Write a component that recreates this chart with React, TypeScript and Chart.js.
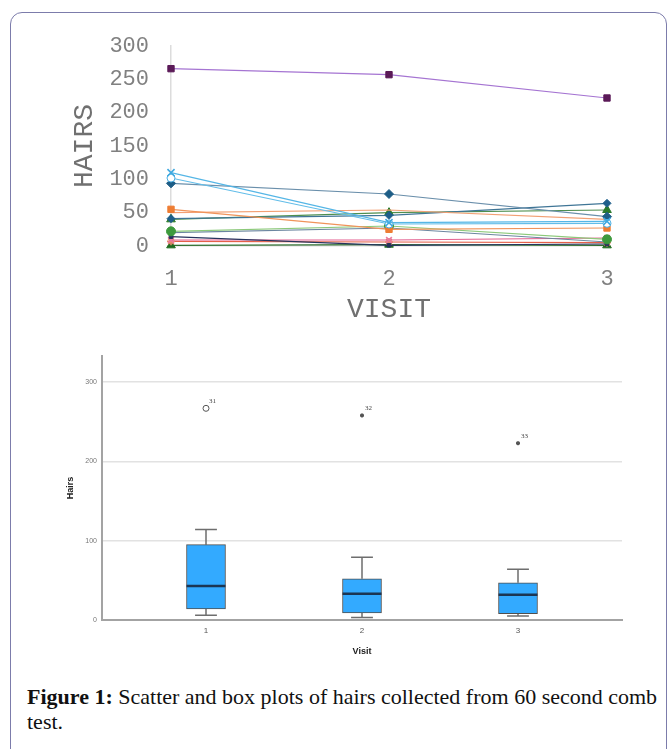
import React, { useEffect, useRef } from 'react';
import { Chart, registerables } from 'chart.js';

Chart.register(...registerables);

// ---------- data ----------
const visits = [1, 2, 3];
const visitLabels = ['1', '2', '3'];

// hairs per subject at visits 1, 2, 3
const subject01 = [110, 35, 37];
const subject02 = [102, 33, 34];
const subject03 = [94, 78, 44];
const subject04 = [55, 25, 27];
const subject05 = [50, 54, 40];
const subject06 = [41, 46, 64];
const subject07 = [40, 50, 54];
const subject08 = [22, 30, 10];
const subject09 = [20, 27, 6];
const subject10 = [14, 1, 3];
const subject11 = [266, 257, 222];
const subject12 = [9, 9, 12];
const subject13 = [7, 6, 5];
const subject14 = [1, 2, 1];

// box plot statistics per visit
const boxMin = [6, 3, 5];
const boxQ1 = [14, 9, 8];
const boxMedian = [43, 33, 32];
const boxQ3 = [95, 52, 47];
const boxMax = [114, 79, 64];
const outlierValues = [267, 258, 223];
const outlierCases = ['31', '32', '33'];

// ---------- styles ----------
type Sty = { line: string; fill: string; border: string; style: string; r: number };
const subjectStyles: Sty[] = [
  { line: '#55b6e6', fill: '#55b6e6', border: '#3fa9e0', style: 'crossRot', r: 5 },
  { line: '#62bde9', fill: '#ffffff', border: '#4aaee2', style: 'circle', r: 4 },
  { line: '#6a8fab', fill: '#1d5d86', border: '#1d5d86', style: 'rectRot', r: 4.5 },
  { line: '#f0935a', fill: '#ee7d33', border: '#ee7d33', style: 'rect', r: 4.5 },
  { line: '#f2a074', fill: '#f2a074', border: '#f2a074', style: 'rect', r: 0 },
  { line: '#3f7596', fill: '#1f5f8b', border: '#1f5f8b', style: 'rectRot', r: 4 },
  { line: '#4f8f4f', fill: '#2a7a2a', border: '#2a7a2a', style: 'triangle', r: 5 },
  { line: '#8cc97a', fill: '#3d9a3d', border: '#3d9a3d', style: 'circle', r: 4.5 },
  { line: '#6c86a0', fill: '#6c86a0', border: '#6c86a0', style: 'rect', r: 0 },
  { line: '#26335e', fill: '#26335e', border: '#26335e', style: 'rect', r: 2.5 },
  { line: '#a574d2', fill: '#5b1a58', border: '#5b1a58', style: 'rect', r: 4.5 },
  { line: '#e35f8f', fill: '#e8799f', border: '#e8799f', style: 'crossRot', r: 4 },
  { line: '#e5604a', fill: '#e58a6a', border: '#e58a6a', style: 'star', r: 4 },
  { line: '#2f6f2f', fill: '#1f6b1f', border: '#1f6b1f', style: 'triangle', r: 5 },
];
const subjects = [
  subject01, subject02, subject03, subject04, subject05, subject06, subject07,
  subject08, subject09, subject10, subject11, subject12, subject13, subject14,
];

const monoFont = '"Liberation Mono", "DejaVu Sans Mono", monospace';
const sansFont = '"Liberation Sans", Arial, sans-serif';

const outlierLabelPlugin = {
  id: 'outlierLabels',
  afterDatasetsDraw(chart: any) {
    const idx = chart.data.datasets.findIndex((d: any) => d.label === 'Outliers');
    if (idx < 0) return;
    const meta = chart.getDatasetMeta(idx);
    const ctx = chart.ctx;
    ctx.save();
    ctx.font = '7px "Liberation Serif", serif';
    ctx.fillStyle = '#444';
    ctx.textAlign = 'left';
    ctx.textBaseline = 'middle';
    meta.data.forEach((pt: any, i: number) => {
      ctx.fillText(outlierCases[i], pt.x + 3, pt.y - 7);
    });
    ctx.restore();
  },
};

export default function App() {
  const topRef = useRef<HTMLCanvasElement>(null);
  const bottomRef = useRef<HTMLCanvasElement>(null);

  useEffect(() => {
    const topChart = new Chart(topRef.current as HTMLCanvasElement, {
      type: 'line',
      data: {
        datasets: subjects.map((vals, si) => {
          const s = subjectStyles[si];
          return {
            label: 'Subject ' + (si + 1),
            data: visits.map((v, i) => ({ x: v, y: vals[i] })),
            borderColor: s.line,
            backgroundColor: s.fill,
            pointBackgroundColor: s.fill,
            pointBorderColor: s.border,
            pointStyle: s.style as any,
            pointRadius: s.r,
            pointBorderWidth: s.style === 'crossRot' || s.style === 'star' ? 1.6 : 1,
            borderWidth: 1.2,
            tension: 0,
            clip: false as any,
          };
        }),
      },
      options: {
        animation: false,
        responsive: false,
        events: [],
        layout: { padding: { left: 0, top: 46, right: 60, bottom: 0 } },
        plugins: { legend: { display: false }, tooltip: { enabled: false } },
        scales: {
          x: {
            type: 'linear',
            min: 1,
            max: 3,
            offset: false,
            afterBuildTicks: (sc: any) => {
              sc.ticks = visits.map((v) => ({ value: v }));
            },
            afterFit: (sc: any) => {
              sc.height = 94;
            },
            ticks: {
              callback: (v: any) => visitLabels[visits.indexOf(Number(v))] ?? '',
              font: { family: monoFont, size: 22 },
              color: '#808080',
              padding: 20,
              maxRotation: 0,
              autoSkip: false,
            },
            grid: { display: false, drawTicks: false },
            border: { display: true, color: '#dcdcdc', width: 1.5 },
            title: {
              display: true,
              text: 'VISIT',
              font: { family: monoFont, size: 28 },
              color: '#707070',
              padding: { top: 0, bottom: 14 },
            },
          },
          y: {
            min: 0,
            max: 300,
            afterFit: (sc: any) => {
              sc.width = 171;
            },
            ticks: {
              stepSize: 50,
              font: { family: monoFont, size: 22 },
              color: '#808080',
              padding: 22,
            },
            grid: { display: false, drawTicks: false },
            border: { display: true, color: '#dcdcdc', width: 1.5 },
            title: {
              display: true,
              text: 'HAIRS',
              font: { family: monoFont, size: 28 },
              color: '#707070',
              padding: { top: 68, bottom: 0 },
            },
          },
        },
      },
    } as any);

    const whiskerPts: any[] = [];
    const capPts: any[] = [];
    const medianPts: any[] = [];
    visits.forEach((v, i) => {
      whiskerPts.push({ x: v, y: boxMax[i] }, { x: v, y: boxQ3[i] }, { x: v, y: null });
      whiskerPts.push({ x: v, y: boxQ1[i] }, { x: v, y: boxMin[i] }, { x: v, y: null });
      capPts.push({ x: v - 0.07, y: boxMax[i] }, { x: v + 0.07, y: boxMax[i] }, { x: v, y: null });
      capPts.push({ x: v - 0.07, y: boxMin[i] }, { x: v + 0.07, y: boxMin[i] }, { x: v, y: null });
      medianPts.push({ x: v - 0.125, y: boxMedian[i] }, { x: v + 0.125, y: boxMedian[i] }, { x: v, y: null });
    });

    const bottomChart = new Chart(bottomRef.current as HTMLCanvasElement, {
      type: 'bar',
      data: {
        datasets: [
          {
            type: 'line',
            label: 'Whiskers',
            data: whiskerPts,
            borderColor: '#6e6e6e',
            borderWidth: 1.5,
            pointRadius: 0,
            spanGaps: false,
            order: 4,
          },
          {
            type: 'line',
            label: 'Caps',
            data: capPts,
            borderColor: '#6e6e6e',
            borderWidth: 1.5,
            pointRadius: 0,
            spanGaps: false,
            order: 3,
          },
          {
            type: 'bar',
            label: 'Box',
            data: visits.map((v, i) => ({ x: v, y: [boxQ1[i], boxQ3[i]] })),
            backgroundColor: '#33aaff',
            borderColor: '#4f4f4f',
            borderWidth: 1,
            borderSkipped: false,
            barThickness: 39,
            order: 2,
          },
          {
            type: 'line',
            label: 'Median',
            data: medianPts,
            borderColor: '#1b3553',
            borderWidth: 2.5,
            pointRadius: 0,
            spanGaps: false,
            order: 1,
          },
          {
            type: 'scatter',
            label: 'Outliers',
            data: visits.map((v, i) => ({ x: v, y: outlierValues[i] })),
            pointStyle: ['circle', 'star', 'star'],
            pointRadius: [3, 2, 2],
            pointBorderWidth: [1, 1.4, 1.4],
            pointBorderColor: '#555',
            pointBackgroundColor: '#ffffff',
            order: 0,
          },
        ],
      },
      options: {
        animation: false,
        responsive: false,
        events: [],
        layout: { padding: { left: 0, top: 16, right: 45, bottom: 0 } },
        plugins: { legend: { display: false }, tooltip: { enabled: false } },
        scales: {
          x: {
            type: 'linear',
            min: 1 / 3,
            max: 11 / 3,
            offset: false,
            afterBuildTicks: (sc: any) => {
              sc.ticks = visits.map((v) => ({ value: v }));
            },
            afterFit: (sc: any) => {
              sc.height = 50;
            },
            ticks: {
              callback: (v: any) => visitLabels[visits.indexOf(Number(v))] ?? '',
              font: { family: sansFont, size: 8 },
              color: '#555',
              padding: 6,
              maxRotation: 0,
              autoSkip: false,
            },
            grid: { display: false, drawTicks: false, offset: false },
            border: { display: true, color: '#a3a3a3', width: 2 },
            title: {
              display: true,
              text: 'Visit',
              font: { family: sansFont, size: 9, weight: 'bold' },
              color: '#222',
              padding: { top: 0, bottom: 13 },
            },
          },
          y: {
            min: 0,
            max: 333,
            afterBuildTicks: (sc: any) => {
              sc.ticks = sc.ticks.filter((t: any) => t.value % 100 === 0);
            },
            afterFit: (sc: any) => {
              sc.width = 102;
            },
            ticks: {
              stepSize: 100,
              font: { family: sansFont, size: 7 },
              color: '#777',
              padding: 5,
            },
            grid: { color: '#e2e2e2', lineWidth: 1.5, drawTicks: false },
            border: { display: true, color: '#a3a3a3', width: 2 },
            title: {
              display: true,
              text: 'Hairs',
              font: { family: sansFont, size: 9, weight: 'bold' },
              color: '#222',
              padding: { top: 65, bottom: 0 },
            },
          },
        },
      },
      plugins: [outlierLabelPlugin],
    } as any);

    return () => {
      topChart.destroy();
      bottomChart.destroy();
    };
  }, []);

  return (
    <div
      style={{
        position: 'absolute',
        left: 0,
        top: 0,
        width: 667,
        height: 749,
        overflow: 'hidden',
        background: '#ffffff',
      }}
    >
      <div
        style={{
          position: 'absolute',
          left: 10,
          top: 12,
          width: 657,
          height: 800,
          border: '1px solid #7c7cab',
          borderRadius: 12,
          boxSizing: 'border-box',
        }}
      />
      <canvas
        ref={topRef}
        width={667}
        height={340}
        style={{ position: 'absolute', left: 0, top: 0, display: 'block' }}
      />
      <canvas
        ref={bottomRef}
        width={667}
        height={330}
        style={{ position: 'absolute', left: 0, top: 340, display: 'block' }}
      />
      <div
        style={{
          position: 'absolute',
          left: 27,
          top: 684,
          fontFamily: '"Liberation Serif", "Times New Roman", serif',
          fontSize: 22,
          lineHeight: '25px',
          color: '#111',
          whiteSpace: 'nowrap',
        }}
      >
        <b>Figure 1:</b> Scatter and box plots of hairs collected from 60 second comb
        <br />
        test.
      </div>
    </div>
  );
}
